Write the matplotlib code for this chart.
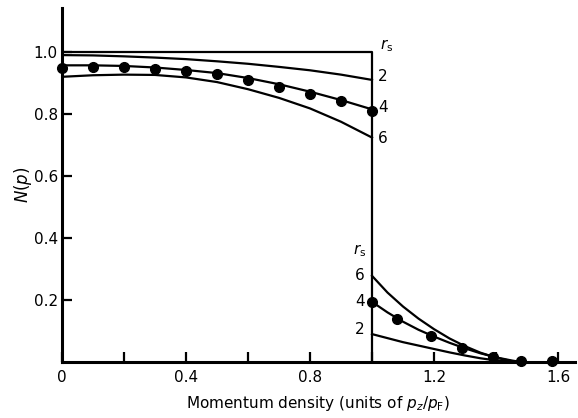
import matplotlib
matplotlib.use("Agg")
import matplotlib.pyplot as plt

# free-electron step (r_s = 0)
step_x = [0.0, 1.0, 1.0]
step_y = [1.0, 1.0, 0.0]

# below Fermi surface
below_x = [0.0, 0.1, 0.2, 0.3, 0.4, 0.5, 0.6, 0.7, 0.8, 0.9, 1.0]
rs2_below = [0.990, 0.989, 0.986, 0.982, 0.977, 0.970, 0.962, 0.952, 0.941, 0.927, 0.910]
rs4_below = [0.957, 0.957, 0.955, 0.950, 0.942, 0.932, 0.916, 0.896, 0.872, 0.845, 0.815]
rs6_below = [0.920, 0.925, 0.927, 0.926, 0.918, 0.903, 0.880, 0.852, 0.818, 0.775, 0.724]

# above Fermi surface
above_x = [1.0, 1.05, 1.1, 1.15, 1.2, 1.25, 1.3, 1.35, 1.4, 1.45, 1.48]
rs2_above = [0.090, 0.077, 0.064, 0.053, 0.042, 0.031, 0.021, 0.012, 0.005, 0.001, 0.0]
rs4_above = [0.194, 0.160, 0.130, 0.104, 0.082, 0.062, 0.044, 0.028, 0.015, 0.005, 0.0]
rs6_above = [0.278, 0.224, 0.179, 0.140, 0.106, 0.076, 0.051, 0.030, 0.014, 0.003, 0.0]

# data points (r_s = 4)
dots_x = [0.0, 0.1, 0.2, 0.3, 0.4, 0.5, 0.6, 0.7, 0.8, 0.9, 1.0,
          1.0, 1.08, 1.19, 1.29, 1.39, 1.48, 1.58]
dots_y = [0.950, 0.953, 0.952, 0.945, 0.939, 0.930, 0.910, 0.887, 0.866, 0.842, 0.810,
          0.194, 0.139, 0.084, 0.045, 0.016, 0.002, 0.002]

xticks_major = [0, 0.4, 0.8, 1.2, 1.6]
xtick_labels = ["0", "0.4", "0.8", "1.2", "1.6"]
xticks_minor = [0.2, 0.6, 1.0, 1.4]
yticks = [0.2, 0.4, 0.6, 0.8, 1.0]
ytick_labels = ["0.2", "0.4", "0.6", "0.8", "1.0"]

fig = plt.figure(figsize=(5.78, 4.18), dpi=100)
ax = fig.add_axes([62/578, 56/418, 513/578, 354/418])

lw = 1.6
ax.plot(step_x, step_y, color="black", lw=lw)
for ys in (rs2_below, rs4_below, rs6_below):
    ax.plot(below_x, ys, color="black", lw=lw)
for ys in (rs2_above, rs4_above, rs6_above):
    ax.plot(above_x, ys, color="black", lw=lw)
ax.plot(dots_x, dots_y, "o", color="black", ms=7, clip_on=False, zorder=5)

ax.set_xlim(0, 513/310)
ax.set_ylim(0, 354/310)
for s in ("top", "right"):
    ax.spines[s].set_visible(False)
for s in ("left", "bottom"):
    ax.spines[s].set_linewidth(2.2)

ax.set_xticks(xticks_major)
ax.set_xticklabels(xtick_labels)
ax.set_xticks(xticks_minor, minor=True)
ax.set_yticks(yticks)
ax.set_yticklabels(ytick_labels)
ax.tick_params(axis="x", which="both", direction="in", length=7, width=1.6,
               labelsize=11, pad=6)
ax.tick_params(axis="y", which="both", direction="in", length=7, width=1.6,
               labelsize=11, pad=3)

ax.set_xlabel("Momentum density (units of $p_z/p_{\\rm F}$)", fontsize=11, labelpad=6)
ax.set_ylabel("$N(p)$", fontsize=12, labelpad=0)

fs = 11
ax.text(1.025, 1.02, "$r_{\\rm s}$", fontsize=fs, ha="left", va="center")
ax.text(1.02, 0.92, "2", fontsize=fs, ha="left", va="center")
ax.text(1.02, 0.82, "4", fontsize=fs, ha="left", va="center")
ax.text(1.02, 0.72, "6", fontsize=fs, ha="left", va="center")

ax.text(0.96, 0.36, "$r_{\\rm s}$", fontsize=fs, ha="center", va="center")
ax.text(0.96, 0.28, "6", fontsize=fs, ha="center", va="center")
ax.text(0.96, 0.195, "4", fontsize=fs, ha="center", va="center")
ax.text(0.96, 0.105, "2", fontsize=fs, ha="center", va="center")

fig.savefig("out.png", dpi=100)
